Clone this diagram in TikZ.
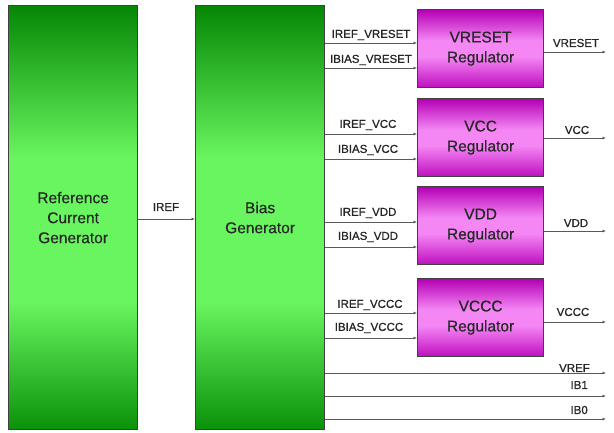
\documentclass[tikz,border=0pt]{standalone}
\usepackage{fontspec}
\setmainfont{Liberation Sans}
\newfontfamily\lblfont[FakeBold=0.8]{Liberation Sans}
\newfontfamily\blkfont[FakeBold=0.5]{Liberation Sans}
\usetikzlibrary{arrows.meta}
\definecolor{gtop}{RGB}{5,135,5}
\definecolor{glight}{RGB}{105,245,95}
\definecolor{gbot}{RGB}{10,145,10}
\definecolor{mtop}{RGB}{180,0,180}
\definecolor{mlight}{RGB}{245,135,245}
\definecolor{mbot}{RGB}{190,15,190}
\pgfdeclareverticalshading{greenshade}{100bp}{color(0bp)=(gbot); color(25bp)=(gbot); color(40bp)=(glight); color(57bp)=(glight); color(75bp)=(gtop); color(100bp)=(gtop)}
\pgfdeclareverticalshading{magshade}{100bp}{color(0bp)=(mbot); color(25bp)=(mbot); color(45bp)=(mlight); color(55bp)=(mlight); color(75bp)=(mtop); color(100bp)=(mtop)}
\begin{document}
\begin{tikzpicture}[x=1pt,y=-1pt,
  blk/.style={draw=black!75, line width=1.2pt, align=center, inner sep=0pt,
    font=\blkfont\fontsize{15.5}{20}\selectfont, text=black!85},
  gblk/.style={blk, shading=greenshade, minimum width=129pt, minimum height=424pt, anchor=north west},
  mblk/.style={blk, shading=magshade, minimum width=126pt, minimum height=78pt, anchor=north west},
  sig/.style={draw=black!65, line width=1pt, -{Latex[length=3.5pt,width=3pt]}},
  lbl/.style={font=\lblfont\fontsize{11.5}{12}\selectfont, text=black!85, inner sep=0pt}]
\useasboundingbox (0,0) rectangle (614,432);
\fill[white] (0,0) rectangle (614,432);
% blocks
\node[gblk] (rcg) at (8,5) {Reference\\Current\\Generator};
\node[gblk] (bias) at (195,5) {Bias\\Generator};
\node[mblk] (vreset) at (417,9) {VRESET\\Regulator};
\node[mblk] (vcc) at (417,98) {VCC\\Regulator};
\node[mblk] (vdd) at (417,186) {VDD\\Regulator};
\node[mblk] (vccc) at (417,278) {VCCC\\Regulator};
% IREF
\draw[sig] (rcg.east |- 0,219) -- (bias.west |- 0,219);
\node[lbl] (liref) at (166,207) {IREF};
% inputs to regulators
\draw[sig] (bias.east |- 0,43) -- (vreset.west |- 0,43);
\draw[sig] (bias.east |- 0,68) -- (vreset.west |- 0,68);
\draw[sig] (bias.east |- 0,134) -- (vcc.west |- 0,134);
\draw[sig] (bias.east |- 0,159) -- (vcc.west |- 0,159);
\draw[sig] (bias.east |- 0,222) -- (vdd.west |- 0,222);
\draw[sig] (bias.east |- 0,247) -- (vdd.west |- 0,247);
\draw[sig] (bias.east |- 0,313) -- (vccc.west |- 0,313);
\draw[sig] (bias.east |- 0,338) -- (vccc.west |- 0,338);
\node[lbl] (l1) at (371,35) {IREF\_VRESET};
\node[lbl] (l2) at (371,60) {IBIAS\_VRESET};
\node[lbl] (l3) at (368,125) {IREF\_VCC};
\node[lbl] (l4) at (368,150) {IBIAS\_VCC};
\node[lbl] (l5) at (368,213) {IREF\_VDD};
\node[lbl] (l6) at (368,237) {IBIAS\_VDD};
\node[lbl] (l7) at (370,305) {IREF\_VCCC};
\node[lbl] (l8) at (369,328) {IBIAS\_VCCC};
% outputs
\coordinate (o1) at (606,52);
\coordinate (o2) at (606,138);
\coordinate (o3) at (606,231);
\coordinate (o4) at (606,322);
\coordinate (o5) at (606,373);
\coordinate (o6) at (606,396);
\coordinate (o7) at (606,419);
\draw[sig] (vreset.east |- o1) -- (o1);
\draw[sig] (vcc.east |- o2) -- (o2);
\draw[sig] (vdd.east |- o3) -- (o3);
\draw[sig] (vccc.east |- o4) -- (o4);
\draw[sig] (bias.east |- o5) -- (o5);
\draw[sig] (bias.east |- o6) -- (o6);
\draw[sig] (bias.east |- o7) -- (o7);
\node[lbl] (q1) at (576,43) {VRESET};
\node[lbl] (q2) at (577,130) {VCC};
\node[lbl] (q3) at (576,223) {VDD};
\node[lbl] (q4) at (573,312) {VCCC};
\node[lbl, anchor=east] (q5) at (590,368) {VREF};
\node[lbl, anchor=east] (q6) at (588,385) {IB1};
\node[lbl, anchor=east] (q7) at (588,410) {IB0};
\end{tikzpicture}
\end{document}
